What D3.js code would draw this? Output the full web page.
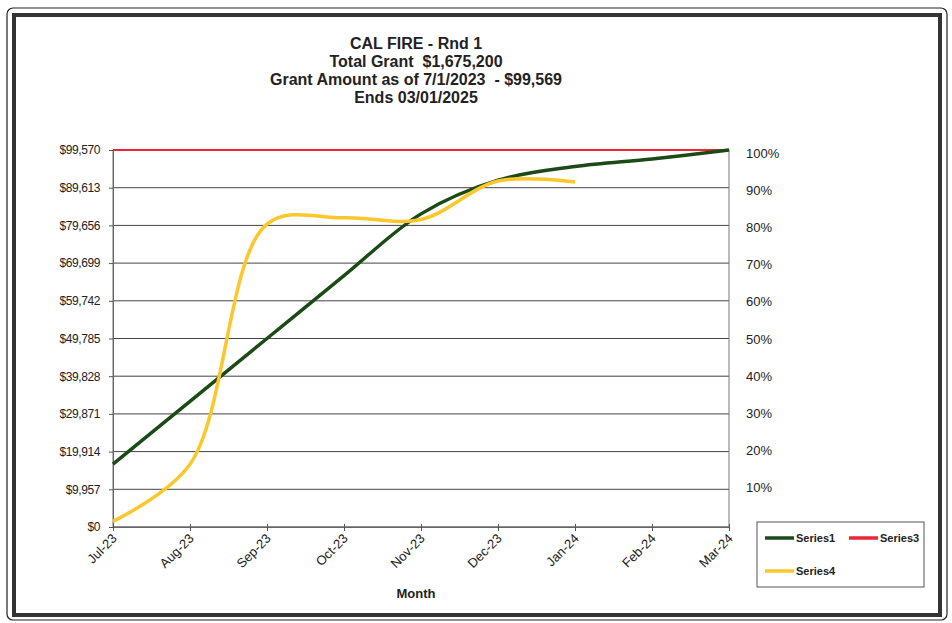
<!DOCTYPE html>
<html>
<head>
<meta charset="utf-8">
<script src="https://cdn.jsdelivr.net/npm/d3@7"></script>
<style>
  body { margin: 0; background: #fff; }
  text { font-family: "Liberation Sans", Arial, sans-serif; fill: #222; }
</style>
</head>
<body>
<div class="grant_chart"></div>
<script>
// chart values
var months = ["Jul-23", "Aug-23", "Sep-23", "Oct-23", "Nov-23", "Dec-23", "Jan-24", "Feb-24", "Mar-24"];
var series1 = [16595, 33190, 49785, 66380, 82700, 91600, 95200, 97200, 99570];
var series3 = [99570, 99570, 99570, 99570, 99570, 99570, 99570, 99570, 99570];
var series4 = [1500, 16600, 80000, 81700, 81200, 91400, 91100];
var yTicks = [0, 9957, 19914, 29871, 39828, 49785, 59742, 69699, 79656, 89613, 99570];
var pctTicks = [10, 20, 30, 40, 50, 60, 70, 80, 90, 100];
var titleLines = ["CAL FIRE - Rnd 1", "Total Grant  $1,675,200", "Grant Amount as of 7/1/2023  - $99,569", "Ends 03/01/2025"];

var W = 952, H = 623;
var margin = {top: 150, left: 113},
    width = 616,
    height = 377;

var svg = d3.select(".grant_chart")
  .append("svg")
  .attr("width", W)
  .attr("height", H);

// scanned page frame
svg.append("rect")
  .attr("x", 7).attr("y", 8).attr("width", 940).attr("height", 612)
  .attr("rx", 6)
  .attr("fill", "none").attr("stroke", "#222").attr("stroke-width", 1.2);
svg.append("rect")
  .attr("x", 14).attr("y", 15).attr("width", 926).attr("height", 600)
  .attr("fill", "none").attr("stroke", "#333").attr("stroke-width", 4);

// title
svg.append("text")
  .attr("x", 416)
  .attr("y", 49)
  .attr("text-anchor", "middle")
  .style("font-size", "16px")
  .style("font-weight", "bold")
  .style("white-space", "pre")
  .selectAll("tspan")
  .data(titleLines)
  .enter().append("tspan")
  .attr("x", 416)
  .attr("dy", function(d, i) { return i == 0 ? 0 : 18; })
  .text(function(d) { return d; });

var g = svg.append("g")
  .attr("transform", "translate(" + margin.left + "," + margin.top + ")");

var x = d3.scalePoint()
  .domain(months)
  .range([0, width]);

var y = d3.scaleLinear()
  .domain([0, 99570])
  .range([height, 0]);

var yPct = d3.scaleLinear()
  .domain([0, 100])
  .range([height - 2, 3]);

// gridlines
g.append("g")
  .selectAll("line")
  .data(yTicks)
  .enter().append("line")
  .attr("x1", 0).attr("x2", width)
  .attr("y1", function(d) { return y(d); })
  .attr("y2", function(d) { return y(d); })
  .attr("stroke", "#444")
  .attr("stroke-width", 1);

// plot border
g.append("rect")
  .attr("width", width).attr("height", height)
  .attr("fill", "none").attr("stroke", "#777").attr("stroke-width", 1);

var fmt = d3.format(",");
var yAxis = d3.axisLeft(y)
  .tickValues(yTicks)
  .tickSize(4)
  .tickSizeOuter(0)
  .tickPadding(9)
  .tickFormat(function(d) { return "$" + fmt(d); });

g.append("g")
  .attr("class", "y axis")
  .call(yAxis)
  .call(function(a) {
    a.select(".domain").attr("stroke", "#666");
    a.selectAll(".tick line").attr("stroke", "#555");
    a.selectAll("text")
      .style("font-size", "12px")
      .style("letter-spacing", "-0.4px")
      .style("font-family", "Liberation Sans, Arial, sans-serif")
      .attr("fill", "#222");
  });

var pAxis = d3.axisRight(yPct)
  .tickValues(pctTicks)
  .tickSize(0)
  .tickPadding(17)
  .tickFormat(function(d) { return d + "%"; });

g.append("g")
  .attr("transform", "translate(" + width + ",0)")
  .call(pAxis)
  .call(function(a) {
    a.select(".domain").remove();
    a.selectAll("text").style("font-size", "13px").style("font-family", "Liberation Sans, Arial, sans-serif").attr("fill", "#222");
  });

var xAxis = d3.axisBottom(x)
  .tickSize(4)
  .tickSizeOuter(0);

g.append("g")
  .attr("class", "x axis")
  .attr("transform", "translate(0," + height + ")")
  .call(xAxis)
  .call(function(a) {
    a.select(".domain").attr("stroke", "#666");
    a.selectAll(".tick line").attr("stroke", "#555").attr("y1", -3);
    a.selectAll("text")
      .style("font-size", "13px")
      .style("font-family", "Liberation Sans, Arial, sans-serif")
      .attr("fill", "#222")
      .attr("text-anchor", "end")
      .attr("dy", "0.35em")
      .attr("transform", "translate(1,9) rotate(-45)")
      .attr("y", 0)
      .attr("x", 0);
  });

svg.append("text")
  .attr("x", 416)
  .attr("y", 598)
  .attr("text-anchor", "middle")
  .style("font-size", "13px")
  .style("font-weight", "bold")
  .text("Month");

// lines, smoothed like the spreadsheet
function lineFor(vals) {
  return d3.line()
    .x(function(d, i) { return x(months[i]); })
    .y(function(d) { return y(d); })
    .curve(d3.curveCatmullRom)(vals);
}

g.append("path")
  .attr("d", lineFor(series3))
  .attr("fill", "none").attr("stroke", "#ee2636").attr("stroke-width", 2);

g.append("path")
  .attr("d", lineFor(series1))
  .attr("fill", "none").attr("stroke", "#1c4a17").attr("stroke-width", 3.5);

g.append("path")
  .attr("d", lineFor(series4))
  .attr("fill", "none").attr("stroke", "#fcc72a").attr("stroke-width", 3.5);

// legend
var legend = svg.append("g").attr("transform", "translate(757,522)");
legend.append("rect")
  .attr("width", 167).attr("height", 65)
  .attr("fill", "#fff").attr("stroke", "#555").attr("stroke-width", 1);

var legendItems = [
  {name: "Series1", color: "#1c4a17", lx: 8, ly: 16},
  {name: "Series3", color: "#ee2636", lx: 92, ly: 16},
  {name: "Series4", color: "#fcc72a", lx: 8, ly: 49}
];

var item = legend.selectAll(".item")
  .data(legendItems)
  .enter().append("g")
  .attr("class", "item")
  .attr("transform", function(d) { return "translate(" + d.lx + "," + d.ly + ")"; });

item.append("line")
  .attr("x1", 0).attr("x2", 29)
  .attr("stroke", function(d) { return d.color; })
  .attr("stroke-width", 3.5);

item.append("text")
  .attr("x", 31)
  .attr("dy", "0.35em")
  .style("font-size", "11px")
  .style("font-weight", "bold")
  .text(function(d) { return d.name; });
</script>
</body>
</html>
